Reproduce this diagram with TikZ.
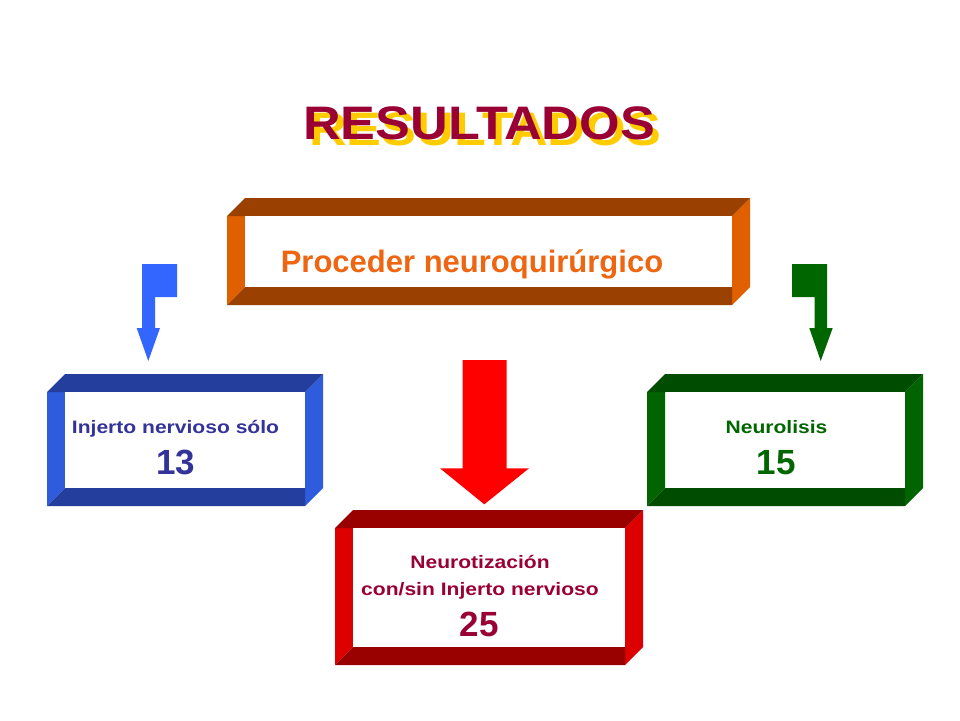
\documentclass[tikz,border=0pt]{standalone}
\usepackage{fontspec}
\setmainfont{Liberation Sans}
\definecolor{oDark}{HTML}{9A4000}
\definecolor{oLight}{HTML}{E06000}
\definecolor{oText}{HTML}{EE6611}
\definecolor{bDark}{HTML}{233E9C}
\definecolor{bLight}{HTML}{2F5BDD}
\definecolor{bText}{HTML}{333399}
\definecolor{bArrow}{HTML}{3366FF}
\definecolor{rDark}{HTML}{990000}
\definecolor{rLight}{HTML}{DD0000}
\definecolor{rText}{HTML}{990033}
\definecolor{rArrow}{HTML}{FF0000}
\definecolor{gDark}{HTML}{004C00}
\definecolor{gLight}{HTML}{006400}
\definecolor{gText}{HTML}{006600}
\definecolor{gArrow}{HTML}{006600}
\definecolor{titleRed}{HTML}{990033}
\definecolor{titleShadow}{HTML}{FFCC00}
% #1=L #2=T #3=R #4=B #5=dark #6=light
\newcommand{\bevelfr}[6]{%
  \fill[#6] (#1,#2) -- (#1+18,#2) -- (#1+18,#4-18) -- (#1,#4) -- cycle;
  \fill[#6] (#3,#2) -- (#3+18,#2-18) -- (#3+18,#4-18) -- (#3,#4) -- cycle;
  \fill[#5] (#1,#4) -- (#1+18,#4-18) -- (#3,#4-18) -- (#3,#4) -- cycle;
  \fill[#5] (#1,#2) -- (#1+18,#2-18) -- (#3+18,#2-18) -- (#3,#2) -- cycle;
}
\tikzset{
  lbl/.style={anchor=base,inner sep=0pt,font=\fontsize{18}{20}\selectfont\bfseries,xscale=1.17},
  num/.style={anchor=base,inner sep=0pt,font=\fontsize{35}{40}\selectfont\bfseries},
  ttl/.style={anchor=base,inner sep=0pt,font=\fontsize{47}{50}\selectfont\bfseries,xscale=1.11},
  interior/.style={inner sep=0pt,fill=white}
}
\begin{document}
\begin{tikzpicture}[x=1pt,y=-1pt]
\useasboundingbox[fill=white] (0,0) rectangle (960,720);
% title
\node[ttl,text=titleShadow] (tshadow) at (485,145) {RESULTADOS};
\node[ttl,text=titleRed] (title) at (479,139) {RESULTADOS};
% frames
\bevelfr{227}{216}{732}{305}{oDark}{oLight}
\bevelfr{47}{392}{305}{506}{bDark}{bLight}
\bevelfr{335}{528}{625}{665}{rDark}{rLight}
\bevelfr{647}{392}{905}{506}{gDark}{gLight}
% interiors
\node[interior,minimum width=487pt,minimum height=71pt] (bP) at (488.5,251.5) {};
\node[interior,minimum width=240pt,minimum height=96pt] (bI) at (185,440) {};
\node[interior,minimum width=272pt,minimum height=119pt] (bN) at (489,587.5) {};
\node[interior,minimum width=239pt,minimum height=96pt] (bL) at (785.5,440) {};
% texts
\node[anchor=base,inner sep=0pt,font=\fontsize{31}{34}\selectfont\bfseries,text=oText] (tP) at (472,272) {Proceder neuroquirúrgico};
\node[lbl,text=bText] (tI) at (175.5,433) {Injerto nervioso sólo};
\node[num,text=bText] (nI) at (176,474) {13};
\node[lbl,text=rText] (tN1) at (480,568) {Neurotización};
\node[lbl,text=rText] (tN2) at (480,595) {con/sin Injerto nervioso};
\node[num,text=rText] (nN) at (479,636) {25};
\node[lbl,text=gText] (tL) at (776.5,433) {Neurolisis};
\node[num,text=gText] (nL) at (776,474) {15};
% block arrows
\fill[bArrow] (142,264) -- (177,264) -- (177,297) -- (155,297) -- (155,328) -- (160,328)
  -- (148.3,361) -- (136.7,328) -- (142,328) -- cycle;
\fill[gArrow] (792,264) -- (827,264) -- (827,328) -- (832.7,328) -- (820.7,361)
  -- (809.3,328) -- (814.5,328) -- (814.5,297) -- (792,297) -- cycle;
\fill[rArrow] (462.7,360) -- (506.7,360) -- (506.7,468.3) -- (529,468.3) -- (484.3,504.3)
  -- (440,468.3) -- (462.7,468.3) -- cycle;
\end{tikzpicture}
\end{document}
